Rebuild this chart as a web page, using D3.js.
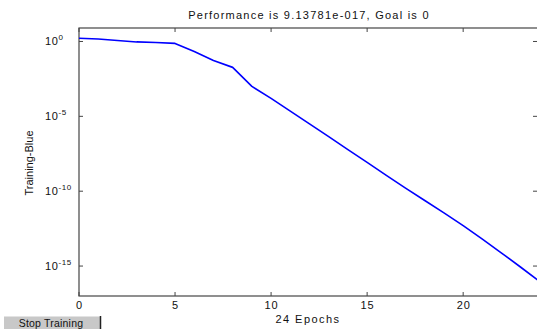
<!DOCTYPE html>
<html>
<head>
<meta charset="utf-8">
<script src="https://cdn.jsdelivr.net/npm/d3@7"></script>
<style>
  body { margin: 0; background: #fff; }
  svg { display: block; font-family: Arial, "Liberation Sans", sans-serif; }
</style>
</head>
<body>
<svg id="chart"></svg>
<script>
// training performance per epoch (log10 of value)
const epochs = d3.range(0, 25);
const perfLog = [0.22, 0.17, 0.07, -0.03, -0.07, -0.13, -0.67, -1.27, -1.73, -3.0,
                 -3.8, -4.65, -5.5, -6.36, -7.22, -8.08, -8.94, -9.79, -10.62, -11.45,
                 -12.3, -13.2, -14.13, -15.08, -16.04];
const xTicks = [0, 5, 10, 15, 20];
const yTickExps = [0, -5, -10, -15];
const titleText = "Performance is 9.13781e-017, Goal is 0";

const width = 537, height = 329;
const margin = { left: 79, top: 28, right: -3, bottom: 33 };

const svg = d3.select("#chart").attr("width", width).attr("height", height);

const x = d3.scaleLinear().domain([0, 24]).range([margin.left, width - margin.right]);
const y = d3.scaleLog().domain([1e-17, Math.pow(10, 0.9)]).range([height - margin.bottom, margin.top]);

const axisColor = "#454545";

// box
svg.append("rect")
    .attr("x", x(0)).attr("y", y.range()[1])
    .attr("width", x(24) - x(0)).attr("height", y.range()[0] - y.range()[1])
    .attr("fill", "none").attr("stroke", axisColor).attr("stroke-width", 1.2);

// inward ticks
const tickLen = 4;
xTicks.forEach(t => {
    svg.append("line").attr("x1", x(t)).attr("x2", x(t))
        .attr("y1", y.range()[0]).attr("y2", y.range()[0] - tickLen)
        .attr("stroke", axisColor);
    svg.append("line").attr("x1", x(t)).attr("x2", x(t))
        .attr("y1", y.range()[1]).attr("y2", y.range()[1] + tickLen)
        .attr("stroke", axisColor);
    svg.append("text").attr("x", x(t) + 0.5).attr("y", 309)
        .attr("text-anchor", "middle").attr("font-size", 11).attr("fill", "#111")
        .attr("letter-spacing", 0.9)
        .text(t);
});

yTickExps.forEach(e => {
    const yy = y(Math.pow(10, e));
    svg.append("line").attr("x1", x(0)).attr("x2", x(0) + tickLen)
        .attr("y1", yy).attr("y2", yy).attr("stroke", axisColor);
    svg.append("line").attr("x1", x(24)).attr("x2", x(24) - tickLen - 3)
        .attr("y1", yy).attr("y2", yy).attr("stroke", axisColor);
    const lab = svg.append("text").attr("x", 45).attr("y", yy + 4)
        .attr("font-size", 11).attr("fill", "#111").attr("letter-spacing", 0.6);
    lab.append("tspan").text("10");
    lab.append("tspan").attr("font-size", 8).attr("dy", -5).text(e);
});

// performance line
const line = d3.line()
    .x((d, i) => x(epochs[i]))
    .y(d => y(Math.pow(10, d)));

svg.append("path")
    .datum(perfLog)
    .attr("d", line)
    .attr("fill", "none")
    .attr("stroke", "#0000ff")
    .attr("stroke-width", 1.6)
    .attr("stroke-linejoin", "round");

// title and labels
svg.append("text").attr("x", 309).attr("y", 19)
    .attr("text-anchor", "middle").attr("font-size", 11).attr("fill", "#111")
    .attr("letter-spacing", 1.24)
    .text(titleText);

svg.append("text").attr("x", 308).attr("y", 323)
    .attr("text-anchor", "middle").attr("font-size", 11).attr("fill", "#111")
    .attr("letter-spacing", 1.45)
    .text(epochs.length - 1 + " Epochs");

svg.append("text")
    .attr("transform", "translate(33,163) rotate(-90)")
    .attr("text-anchor", "middle").attr("font-size", 11).attr("fill", "#111")
    .text("Training-Blue");

// Stop Training button
svg.append("rect").attr("x", 4).attr("y", 316.5).attr("width", 96).attr("height", 13)
    .attr("fill", "#c8c8c8");
svg.append("line").attr("x1", 100.5).attr("x2", 100.5).attr("y1", 316).attr("y2", 329)
    .attr("stroke", "#222").attr("stroke-width", 1.5);
svg.append("text").attr("x", 51).attr("y", 326.5)
    .attr("text-anchor", "middle").attr("font-size", 10.5).attr("fill", "#111")
    .attr("letter-spacing", 0.2)
    .text("Stop Training");
</script>
</body>
</html>
